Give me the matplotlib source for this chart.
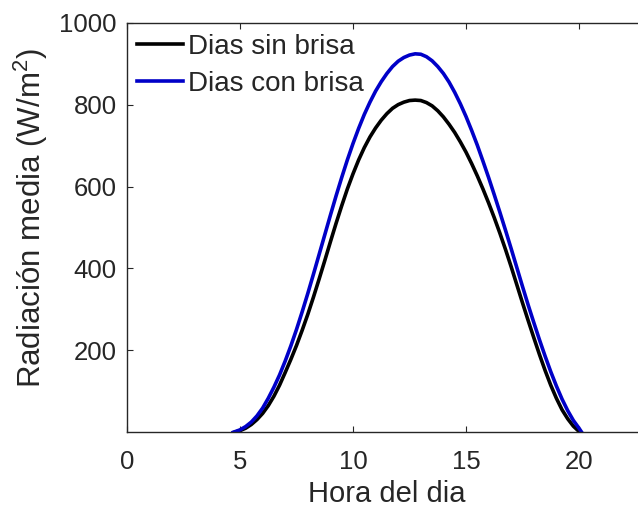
import matplotlib
matplotlib.use('Agg')
import matplotlib.pyplot as plt

# Mean solar radiation through the day, read every quarter hour
hora_sin = [4.75, 5.0, 5.25, 5.5, 5.75, 6.0, 6.25, 6.5, 6.75, 7.0, 7.25, 7.5,
            7.75, 8.0, 8.25, 8.5, 8.75, 9.0, 9.25, 9.5, 9.75, 10.0, 10.25,
            10.5, 10.75, 11.0, 11.25, 11.5, 11.75, 12.0, 12.25, 12.5, 12.75,
            13.0, 13.25, 13.5, 13.75, 14.0, 14.25, 14.5, 14.75, 15.0, 15.25,
            15.5, 15.75, 16.0, 16.25, 16.5, 16.75, 17.0, 17.25, 17.5, 17.75,
            18.0, 18.25, 18.5, 18.75, 19.0, 19.25, 19.5, 19.75, 20.04]
rad_sin = [0, 4, 10, 19, 31, 46, 65, 88, 115, 146, 178, 212,
           249, 288, 330, 374, 419, 465, 510, 553, 594, 631, 665,
           695, 721, 743, 762, 778, 791, 800, 806, 810, 811,
           810, 805, 797, 785, 770, 752, 732, 709, 684, 656,
           626, 594, 560, 524, 486, 446, 404, 360, 316, 273,
           231, 190, 151, 115, 83, 55, 33, 15, 0]

hora_con = [4.7, 5.0, 5.25, 5.5, 5.75, 6.0, 6.25, 6.5, 6.75, 7.0, 7.25, 7.5,
            7.75, 8.0, 8.25, 8.5, 8.75, 9.0, 9.25, 9.5, 9.75, 10.0, 10.25,
            10.5, 10.75, 11.0, 11.25, 11.5, 11.75, 12.0, 12.25, 12.5, 12.75,
            13.0, 13.25, 13.5, 13.75, 14.0, 14.25, 14.5, 14.75, 15.0, 15.25,
            15.5, 15.75, 16.0, 16.25, 16.5, 16.75, 17.0, 17.25, 17.5, 17.75,
            18.0, 18.25, 18.5, 18.75, 19.0, 19.25, 19.5, 19.75, 20.0, 20.12]
rad_con = [0, 6, 14, 25, 40, 59, 83, 110, 140, 174, 211, 251,
           294, 339, 386, 434, 482, 530, 577, 622, 665, 705, 742,
           776, 806, 833, 856, 876, 893, 906, 915, 921, 924,
           923, 917, 907, 893, 876, 855, 830, 802, 771, 737,
           701, 662, 622, 580, 537, 493, 448, 402, 356, 311,
           268, 226, 186, 148, 113, 81, 53, 29, 10, 0]

x_ticks = [0, 5, 10, 15, 20]
y_ticks = [200, 400, 600, 800, 1000]

plt.rcParams['font.family'] = ['Liberation Sans', 'DejaVu Sans']
plt.rcParams['mathtext.default'] = 'regular'
dark = '#262626'

W, H = 638, 511
fig = plt.figure(figsize=(W / 100, H / 100), dpi=100)
ax = fig.add_axes([127 / W, (H - 432.3) / H, 519.8 / W, 409.6 / H])

ax.plot(hora_sin, rad_sin, color='black', lw=2.6, label='Dias sin brisa',
        solid_joinstyle='round')
ax.plot(hora_con, rad_con, color='#0000C8', lw=2.6, label='Dias con brisa',
        solid_joinstyle='round')

ax.set_xlim(0, 23)
ax.set_ylim(0, 1000)
ax.set_xticks(x_ticks)
ax.set_yticks(y_ticks)

for s in ax.spines.values():
    s.set_color(dark)
    s.set_linewidth(1.0)
ax.tick_params(direction='in', length=4.3, width=0.8, colors=dark,
               labelsize=18.5, top=True, right=True)
ax.tick_params(axis='x', pad=13)
ax.tick_params(axis='y', pad=7.5)

ax.set_xlabel('Hora del dia', fontsize=21, color=dark, labelpad=4)
ax.set_ylabel('Radiación media (W/m$^2$)', fontsize=22.5, color=dark)
ax.yaxis.set_label_coords(-0.148, 0.524)

ax.legend(loc='upper left', bbox_to_anchor=(0.019, 0.972), frameon=False,
          fontsize=20, handlelength=1.65, handletextpad=0.2,
          borderpad=0, borderaxespad=0, labelspacing=0.38, labelcolor=dark)

fig.savefig('out.png', dpi=100)
